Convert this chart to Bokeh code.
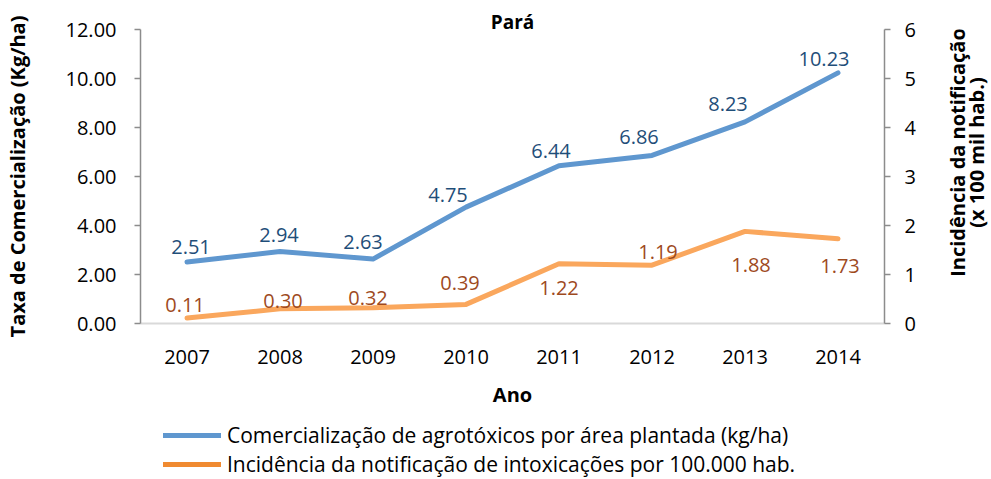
import math
from bokeh.plotting import figure
from bokeh.layouts import column, row
from bokeh.models import (ColumnDataSource, FactorRange, Range1d, LinearAxis, FixedTicker,
                          NumeralTickFormatter, Legend, LegendItem)
from bokeh.core.properties import value
from bokeh.embed import file_html
from bokeh.resources import INLINE

years = ["2007", "2008", "2009", "2010", "2011", "2012", "2013", "2014"]
comercializacao = [2.51, 2.94, 2.63, 4.75, 6.44, 6.86, 8.23, 10.23]
incidencia = [0.11, 0.30, 0.32, 0.39, 1.22, 1.19, 1.88, 1.73]
left_ticks = [0, 2, 4, 6, 8, 10, 12]
right_ticks = [0, 1, 2, 3, 4, 5, 6]
series_names = ["Comercialização de agrotóxicos por área plantada (kg/ha)",
                "Incidência da notificação de intoxicações por 100.000 hab."]
right_label_lines = ["Incidência da notificação", "(x 100 mil hab.)"]

# label placement (style only, screen pixels, down is positive)
blue_dx = [4, -1, -10, -18, -8, -13, -17, -14]
blue_dy = [-15, -16, -17, -12, -15, -18, -18, -14]
orange_dx = [-2, 3, -5, -6, 0, 6, 6, 2]
orange_dy = [-13, -8, -10, -21, 24, -13, 34, 27]

FONT = "Open Sans"
FS = "20px"
BLUE = "#5F97CF"
ORANGE = "#FAA75D"
ORANGE_LEG = "#F08A30"
BLUE_TXT = "#1F4E79"
ORANGE_TXT = "#9E4A1E"
AXIS_GRAY = "#8C8C8C"
BLACK = "#000000"

H_MAIN = 410
H_LEG = 69
W_MAIN = 930
W_RLAB = 61
W_ALL = W_MAIN + W_RLAB
FR_L, FR_R, FR_T, FR_B = 136, 884, 29, 323

p = figure(width=W_MAIN, height=H_MAIN, output_backend="svg", toolbar_location=None,
           x_range=FactorRange(*years, range_padding=0), y_range=Range1d(0, 12),
           min_border_left=FR_L, min_border_right=W_MAIN - FR_R, min_border_top=FR_T,
           min_border_bottom=H_MAIN - FR_B,
           title="Pará")
p.title.align = "center"
p.title.text_font = FONT
p.title.text_font_size = "19px"
p.title.text_font_style = "bold"
p.title.text_color = BLACK
p.title.standoff = -11
p.outline_line_color = None
p.grid.visible = False
p.background_fill_color = "white"
p.border_fill_color = "white"

p.extra_y_ranges = {"right": Range1d(0, 6)}

src = ColumnDataSource(dict(x=years, a=comercializacao, b=incidencia,
                            at=["%.2f" % v for v in comercializacao],
                            bt=["%.2f" % v for v in incidencia],
                            adx=blue_dx, ady=blue_dy, bdx=orange_dx, bdy=orange_dy))

p.line("x", "a", source=src, line_color=BLUE, line_width=5, line_cap="round", line_join="round")
p.line("x", "b", source=src, line_color=ORANGE, line_width=5, line_cap="round", line_join="round",
       y_range_name="right")

p.text("x", "a", text="at", source=src, x_offset="adx", y_offset="ady",
       text_align="center", text_baseline="middle", text_font=value(FONT),
       text_font_size=FS, text_color=BLUE_TXT)
p.text("x", "b", text="bt", source=src, x_offset="bdx", y_offset="bdy",
       text_align="center", text_baseline="middle", text_font=value(FONT),
       text_font_size=FS, text_color=ORANGE_TXT, y_range_name="right")

# x axis
xa = p.xaxis[0]
xa.axis_label = "Ano"
xa.axis_label_text_font = FONT
xa.axis_label_text_font_style = "bold"
xa.axis_label_text_font_size = FS
xa.axis_label_text_color = BLACK
xa.axis_label_standoff = 14
xa.major_label_text_font = FONT
xa.major_label_text_font_size = FS
xa.major_label_text_color = BLACK
xa.major_label_standoff = 20
xa.major_tick_line_color = None
xa.minor_tick_line_color = None
xa.axis_line_color = "#D9D9D9"
xa.axis_line_width = 2

# left axis
ya = p.yaxis[0]
ya.ticker = FixedTicker(ticks=left_ticks)
ya.formatter = NumeralTickFormatter(format="0.00")
ya.axis_label = "Taxa de Comercialização (Kg/ha)"
ya.axis_label_text_font = FONT
ya.axis_label_text_font_style = "bold"
ya.axis_label_text_font_size = FS
ya.axis_label_text_color = BLACK
ya.axis_label_standoff = 32
ya.major_label_text_font = FONT
ya.major_label_text_font_size = FS
ya.major_label_text_color = BLACK
ya.major_label_standoff = 18
ya.major_tick_in = 0
ya.major_tick_out = 6
ya.minor_tick_line_color = None
ya.axis_line_color = AXIS_GRAY
ya.major_tick_line_color = AXIS_GRAY
ya.axis_line_width = 1.5
ya.major_tick_line_width = 1.5

ra = LinearAxis(y_range_name="right", ticker=FixedTicker(ticks=right_ticks))
ra.major_label_text_font = FONT
ra.major_label_text_font_size = FS
ra.major_label_text_color = BLACK
ra.major_label_standoff = 14
ra.major_tick_in = 0
ra.major_tick_out = 6
ra.minor_tick_line_color = None
ra.axis_line_color = AXIS_GRAY
ra.major_tick_line_color = AXIS_GRAY
ra.axis_line_width = 1.5
ra.major_tick_line_width = 1.5
p.add_layout(ra, "right")

# right axis title (reads bottom-to-top), in its own narrow figure
r = figure(width=W_RLAB, height=H_MAIN, output_backend="svg", toolbar_location=None,
           x_range=Range1d(0, W_RLAB), y_range=Range1d(0, 12),
           x_axis_location=None, y_axis_location=None,
           min_border_left=0, min_border_right=0, min_border_top=FR_T,
           min_border_bottom=H_MAIN - FR_B)
r.outline_line_color = None
r.grid.visible = False
r.text(x=[27, 46], y=[6.98, 6.98], text=right_label_lines, angle=math.pi / 2,
       text_align="center", text_baseline="middle", text_font=value(FONT),
       text_font_size=FS, text_font_style="bold", text_color=BLACK)

# legend figure
q = figure(width=W_ALL, height=H_LEG, output_backend="svg", toolbar_location=None,
           x_range=Range1d(0, 1), y_range=Range1d(0, 1),
           x_axis_location=None, y_axis_location=None,
           min_border_left=FR_L, min_border_right=W_ALL - FR_R, min_border_top=0, min_border_bottom=0)
q.outline_line_color = None
q.grid.visible = False
la = q.line([5, 6], [5, 5], line_color=BLUE, line_width=5, line_cap="round")
lb = q.line([5, 6], [5, 5], line_color=ORANGE_LEG, line_width=5, line_cap="round")
legend = Legend(items=[LegendItem(label=series_names[0], renderers=[la]),
                       LegendItem(label=series_names[1], renderers=[lb])],
                location=(27, 1), orientation="vertical",
                label_text_font=FONT, label_text_font_size="21px", label_text_color=BLACK,
                glyph_width=58, glyph_height=20, label_height=20, label_standoff=6,
                spacing=1, padding=0, margin=0, border_line_color=None,
                background_fill_alpha=0)
q.add_layout(legend, "center")

open("out.html", "w").write(file_html(column(row(p, r, spacing=0), q, spacing=0), INLINE))
